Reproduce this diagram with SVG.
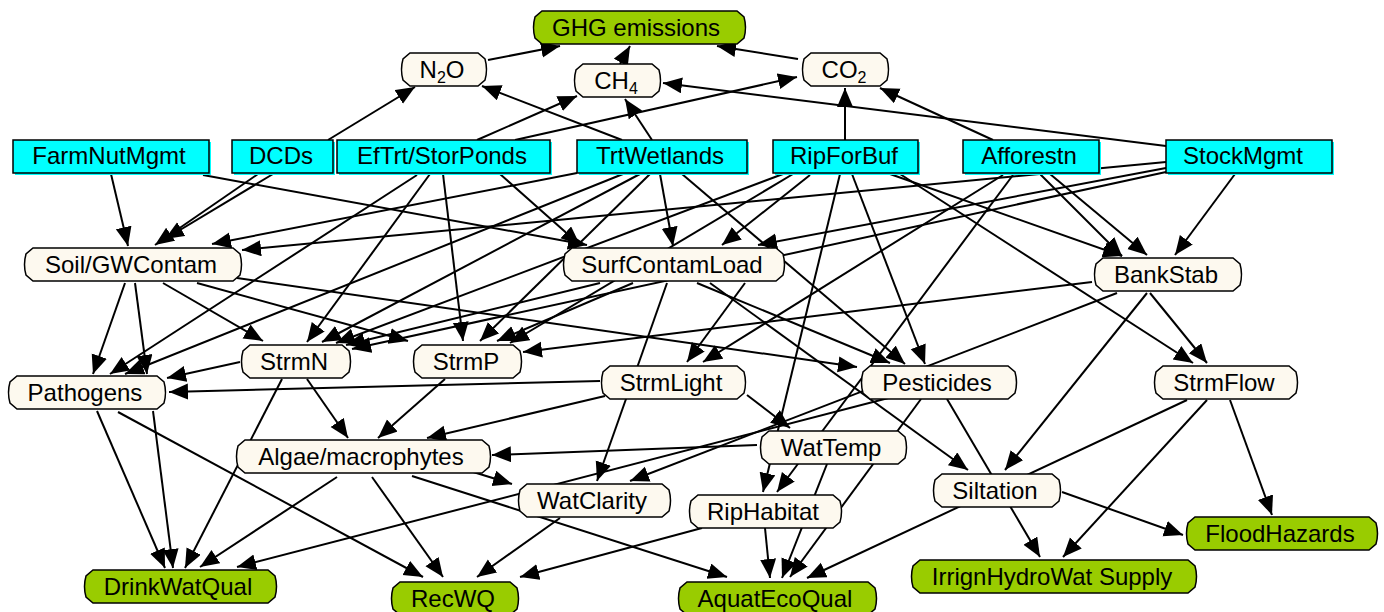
<svg xmlns="http://www.w3.org/2000/svg" width="1384" height="612" viewBox="0 0 1384 612">
<style>
.e line{stroke:#000;stroke-width:2;marker-end:url(#ah)}
.n path{stroke:#000;stroke-width:1.5}
.c{fill:#fdf9ef}
.g{fill:#99cc00}
.d rect.b{fill:#00ffff;stroke:#000;stroke-width:1.5}
.d rect.s{fill:#00ffff}
text{font-family:"Liberation Sans",Arial,sans-serif;font-size:24px;fill:#000;text-anchor:middle}
</style>
<defs>
<marker id="ah" markerUnits="userSpaceOnUse" markerWidth="22" markerHeight="18" refX="19" refY="8" orient="auto"><path d="M0,0 L19,8 L0,16 Z" fill="#000"/></marker>
</defs>
<rect width="1384" height="612" fill="#fff"/>
<g id="edges" class="e">
<line x1="488" y1="60" x2="560" y2="46"/>
<line x1="620" y1="64" x2="630" y2="46"/>
<line x1="798" y1="59" x2="717" y2="46"/>
<line x1="328" y1="140" x2="415" y2="87"/>
<line x1="622" y1="140" x2="482" y2="86"/>
<line x1="477" y1="140" x2="577" y2="96"/>
<line x1="652" y1="140" x2="625" y2="99"/>
<line x1="515" y1="140" x2="797" y2="77"/>
<line x1="845" y1="140" x2="845" y2="88"/>
<line x1="1166" y1="146" x2="663" y2="83"/>
<line x1="993" y1="140" x2="880" y2="88"/>
<line x1="111" y1="174" x2="128" y2="246"/>
<line x1="258" y1="174" x2="155" y2="245"/>
<line x1="273" y1="174" x2="165" y2="239"/>
<line x1="577" y1="173" x2="212" y2="244"/>
<line x1="1166" y1="162" x2="242" y2="250"/>
<line x1="203" y1="175" x2="587" y2="245"/>
<line x1="500" y1="174" x2="580" y2="245"/>
<line x1="660" y1="174" x2="673" y2="246"/>
<line x1="810" y1="175" x2="722" y2="245"/>
<line x1="1166" y1="168" x2="758" y2="245"/>
<line x1="417" y1="175" x2="110" y2="374"/>
<line x1="430" y1="174" x2="307" y2="342"/>
<line x1="443" y1="174" x2="463" y2="341"/>
<line x1="623" y1="174" x2="125" y2="374"/>
<line x1="640" y1="174" x2="322" y2="342"/>
<line x1="650" y1="174" x2="480" y2="341"/>
<line x1="682" y1="174" x2="905" y2="364"/>
<line x1="783" y1="174" x2="336" y2="343"/>
<line x1="793" y1="174" x2="510" y2="343"/>
<line x1="600" y1="283" x2="346" y2="345"/>
<line x1="633" y1="283" x2="497" y2="341"/>
<line x1="1166" y1="172" x2="352" y2="349"/>
<line x1="125" y1="283" x2="93" y2="374"/>
<line x1="135" y1="283" x2="147" y2="374"/>
<line x1="163" y1="283" x2="263" y2="341"/>
<line x1="197" y1="283" x2="408" y2="341"/>
<line x1="237" y1="278" x2="857" y2="367"/>
<line x1="240" y1="362" x2="167" y2="378"/>
<line x1="307" y1="379" x2="348" y2="438"/>
<line x1="282" y1="379" x2="185" y2="568"/>
<line x1="445" y1="379" x2="378" y2="438"/>
<line x1="600" y1="381" x2="169" y2="392"/>
<line x1="605" y1="396" x2="427" y2="438"/>
<line x1="747" y1="395" x2="790" y2="428"/>
<line x1="667" y1="283" x2="597" y2="481"/>
<line x1="745" y1="283" x2="687" y2="362"/>
<line x1="1003" y1="175" x2="703" y2="362"/>
<line x1="697" y1="283" x2="890" y2="363"/>
<line x1="710" y1="283" x2="968" y2="470"/>
<line x1="852" y1="174" x2="925" y2="364"/>
<line x1="840" y1="174" x2="763" y2="492"/>
<line x1="890" y1="174" x2="1122" y2="256"/>
<line x1="900" y1="174" x2="1193" y2="363"/>
<line x1="1040" y1="174" x2="1122" y2="256"/>
<line x1="1050" y1="174" x2="1147" y2="255"/>
<line x1="1235" y1="174" x2="1175" y2="255"/>
<line x1="1092" y1="282" x2="523" y2="352"/>
<line x1="1117" y1="293" x2="630" y2="481"/>
<line x1="1147" y1="293" x2="1005" y2="470"/>
<line x1="1150" y1="293" x2="1207" y2="363"/>
<line x1="900" y1="395" x2="237" y2="567"/>
<line x1="921" y1="399" x2="790" y2="577"/>
<line x1="947" y1="399" x2="1040" y2="557"/>
<line x1="757" y1="445" x2="492" y2="455"/>
<line x1="1013" y1="175" x2="777" y2="492"/>
<line x1="827" y1="464" x2="782" y2="578"/>
<line x1="765" y1="528" x2="770" y2="578"/>
<line x1="702" y1="528" x2="520" y2="577"/>
<line x1="560" y1="518" x2="477" y2="577"/>
<line x1="337" y1="477" x2="200" y2="567"/>
<line x1="372" y1="477" x2="443" y2="577"/>
<line x1="412" y1="476" x2="727" y2="577"/>
<line x1="470" y1="471" x2="512" y2="484"/>
<line x1="97" y1="411" x2="165" y2="568"/>
<line x1="153" y1="411" x2="173" y2="568"/>
<line x1="118" y1="412" x2="423" y2="577"/>
<line x1="1187" y1="400" x2="807" y2="578"/>
<line x1="1207" y1="400" x2="1063" y2="557"/>
<line x1="1230" y1="400" x2="1272" y2="515"/>
<line x1="1062" y1="492" x2="1183" y2="535"/>
</g>
<g id="FarmNutMgmt" class="d"><rect class="s" x="15" y="142" width="196" height="33"/><rect class="b" x="13" y="140" width="196" height="33"/><text x="109" y="164">FarmNutMgmt</text></g>
<g id="DCDs" class="d"><rect class="s" x="234" y="142" width="101" height="33"/><rect class="b" x="232" y="140" width="101" height="33"/><text x="281" y="164">DCDs</text></g>
<g id="EfTrtStorPonds" class="d"><rect class="s" x="339" y="142" width="213" height="33"/><rect class="b" x="337" y="140" width="213" height="33"/><text x="442" y="164">EfTrt/StorPonds</text></g>
<g id="TrtWetlands" class="d"><rect class="s" x="579" y="142" width="170" height="33"/><rect class="b" x="577" y="140" width="170" height="33"/><text x="660" y="164">TrtWetlands</text></g>
<g id="RipForBuf" class="d"><rect class="s" x="775" y="142" width="145" height="33"/><rect class="b" x="773" y="140" width="145" height="33"/><text x="844" y="164">RipForBuf</text></g>
<g id="Afforestn" class="d"><rect class="s" x="965" y="142" width="136" height="33"/><rect class="b" x="963" y="140" width="136" height="33"/><text x="1029" y="164">Afforestn</text></g>
<g id="StockMgmt" class="d"><rect class="s" x="1168" y="142" width="166" height="33"/><rect class="b" x="1166" y="140" width="166" height="33"/><text x="1243" y="164">StockMgmt</text></g>
<g id="GHG" class="n" transform="translate(532,11)"><path class="g" d="M10,0 H205 L212,6 Q215,16.5 212,27 L205,33 H10 L3,27 Q0,16.5 3,6 Z"/><text x="104" y="25">GHG emissions</text></g>
<g id="N2O" class="n" transform="translate(400,53)"><path class="c" d="M10,0 H78 L85,6 Q88,16.5 85,27 L78,33 H10 L3,27 Q0,16.5 3,6 Z"/><text x="42" y="25">N<tspan font-size="16" dy="5">2</tspan><tspan dy="-5">O</tspan></text></g>
<g id="CH4" class="n" transform="translate(573,64)"><path class="c" d="M10,0 H79 L86,6 Q89,16.5 86,27 L79,33 H10 L3,27 Q0,16.5 3,6 Z"/><text x="43" y="25">CH<tspan font-size="16" dy="5">4</tspan></text></g>
<g id="CO2" class="n" transform="translate(801,53)"><path class="c" d="M10,0 H79 L86,6 Q89,16.5 86,27 L79,33 H10 L3,27 Q0,16.5 3,6 Z"/><text x="43" y="25">CO<tspan font-size="16" dy="5">2</tspan></text></g>
<g id="SoilGWContam" class="n" transform="translate(23,248)"><path class="c" d="M10,0 H210 L217,6 Q220,16.5 217,27 L210,33 H10 L3,27 Q0,16.5 3,6 Z"/><text x="108" y="25">Soil/GWContam</text></g>
<g id="SurfContamLoad" class="n" transform="translate(562,248)"><path class="c" d="M10,0 H214 L221,6 Q224,16.5 221,27 L214,33 H10 L3,27 Q0,16.5 3,6 Z"/><text x="110" y="25">SurfContamLoad</text></g>
<g id="BankStab" class="n" transform="translate(1093,258)"><path class="c" d="M10,0 H140 L147,6 Q150,16.5 147,27 L140,33 H10 L3,27 Q0,16.5 3,6 Z"/><text x="73" y="25">BankStab</text></g>
<g id="StrmN" class="n" transform="translate(240,345)"><path class="c" d="M10,0 H102 L109,6 Q112,16.5 109,27 L102,33 H10 L3,27 Q0,16.5 3,6 Z"/><text x="54" y="25">StrmN</text></g>
<g id="StrmP" class="n" transform="translate(412,345)"><path class="c" d="M10,0 H101 L108,6 Q111,16.5 108,27 L101,33 H10 L3,27 Q0,16.5 3,6 Z"/><text x="54" y="25">StrmP</text></g>
<g id="Pathogens" class="n" transform="translate(7,376)"><path class="c" d="M10,0 H150 L157,6 Q160,16.5 157,27 L150,33 H10 L3,27 Q0,16.5 3,6 Z"/><text x="78" y="25">Pathogens</text></g>
<g id="StrmLight" class="n" transform="translate(600,366)"><path class="c" d="M10,0 H137 L144,6 Q147,16.5 144,27 L137,33 H10 L3,27 Q0,16.5 3,6 Z"/><text x="71" y="25">StrmLight</text></g>
<g id="Pesticides" class="n" transform="translate(860,366)"><path class="c" d="M10,0 H148 L155,6 Q158,16.5 155,27 L148,33 H10 L3,27 Q0,16.5 3,6 Z"/><text x="77" y="25">Pesticides</text></g>
<g id="StrmFlow" class="n" transform="translate(1153,366)"><path class="c" d="M10,0 H136 L143,6 Q146,16.5 143,27 L136,33 H10 L3,27 Q0,16.5 3,6 Z"/><text x="71" y="25">StrmFlow</text></g>
<g id="Algae" class="n" transform="translate(235,440)"><path class="c" d="M10,0 H247 L254,6 Q257,16.5 254,27 L247,33 H10 L3,27 Q0,16.5 3,6 Z"/><text x="126" y="25">Algae/macrophytes</text></g>
<g id="WatTemp" class="n" transform="translate(759,431)"><path class="c" d="M10,0 H139 L146,6 Q149,16.5 146,27 L139,33 H10 L3,27 Q0,16.5 3,6 Z"/><text x="72" y="25">WatTemp</text></g>
<g id="WatClarity" class="n" transform="translate(517,484)"><path class="c" d="M10,0 H145 L152,6 Q155,16.5 152,27 L145,33 H10 L3,27 Q0,16.5 3,6 Z"/><text x="75" y="25">WatClarity</text></g>
<g id="RipHabitat" class="n" transform="translate(688,495)"><path class="c" d="M10,0 H145 L152,6 Q155,16.5 152,27 L145,33 H10 L3,27 Q0,16.5 3,6 Z"/><text x="75" y="25">RipHabitat</text></g>
<g id="Siltation" class="n" transform="translate(932,474)"><path class="c" d="M10,0 H120 L127,6 Q130,16.5 127,27 L120,33 H10 L3,27 Q0,16.5 3,6 Z"/><text x="63" y="25">Siltation</text></g>
<g id="DrinkWatQual" class="n" transform="translate(83,570)"><path class="g" d="M10,0 H185 L192,6 Q195,16.5 192,27 L185,33 H10 L3,27 Q0,16.5 3,6 Z"/><text x="95" y="25">DrinkWatQual</text></g>
<g id="RecWQ" class="n" transform="translate(390,582)"><path class="g" d="M10,0 H120 L127,6 Q130,16.5 127,27 L120,33 H10 L3,27 Q0,16.5 3,6 Z"/><text x="63" y="25">RecWQ</text></g>
<g id="AquatEcoQual" class="n" transform="translate(677,582)"><path class="g" d="M10,0 H191 L198,6 Q201,16.5 198,27 L191,33 H10 L3,27 Q0,16.5 3,6 Z"/><text x="98" y="25">AquatEcoQual</text></g>
<g id="FloodHazards" class="n" transform="translate(1185,517)"><path class="g" d="M10,0 H184 L191,6 Q194,16.5 191,27 L184,33 H10 L3,27 Q0,16.5 3,6 Z"/><text x="95" y="25">FloodHazards</text></g>
<g id="IrrignHydroWatSupply" class="n" transform="translate(910,560)"><path class="g" d="M10,0 H278 L285,6 Q288,16.5 285,27 L278,33 H10 L3,27 Q0,16.5 3,6 Z"/><text x="142" y="25">IrrignHydroWat Supply</text></g>
</svg>
